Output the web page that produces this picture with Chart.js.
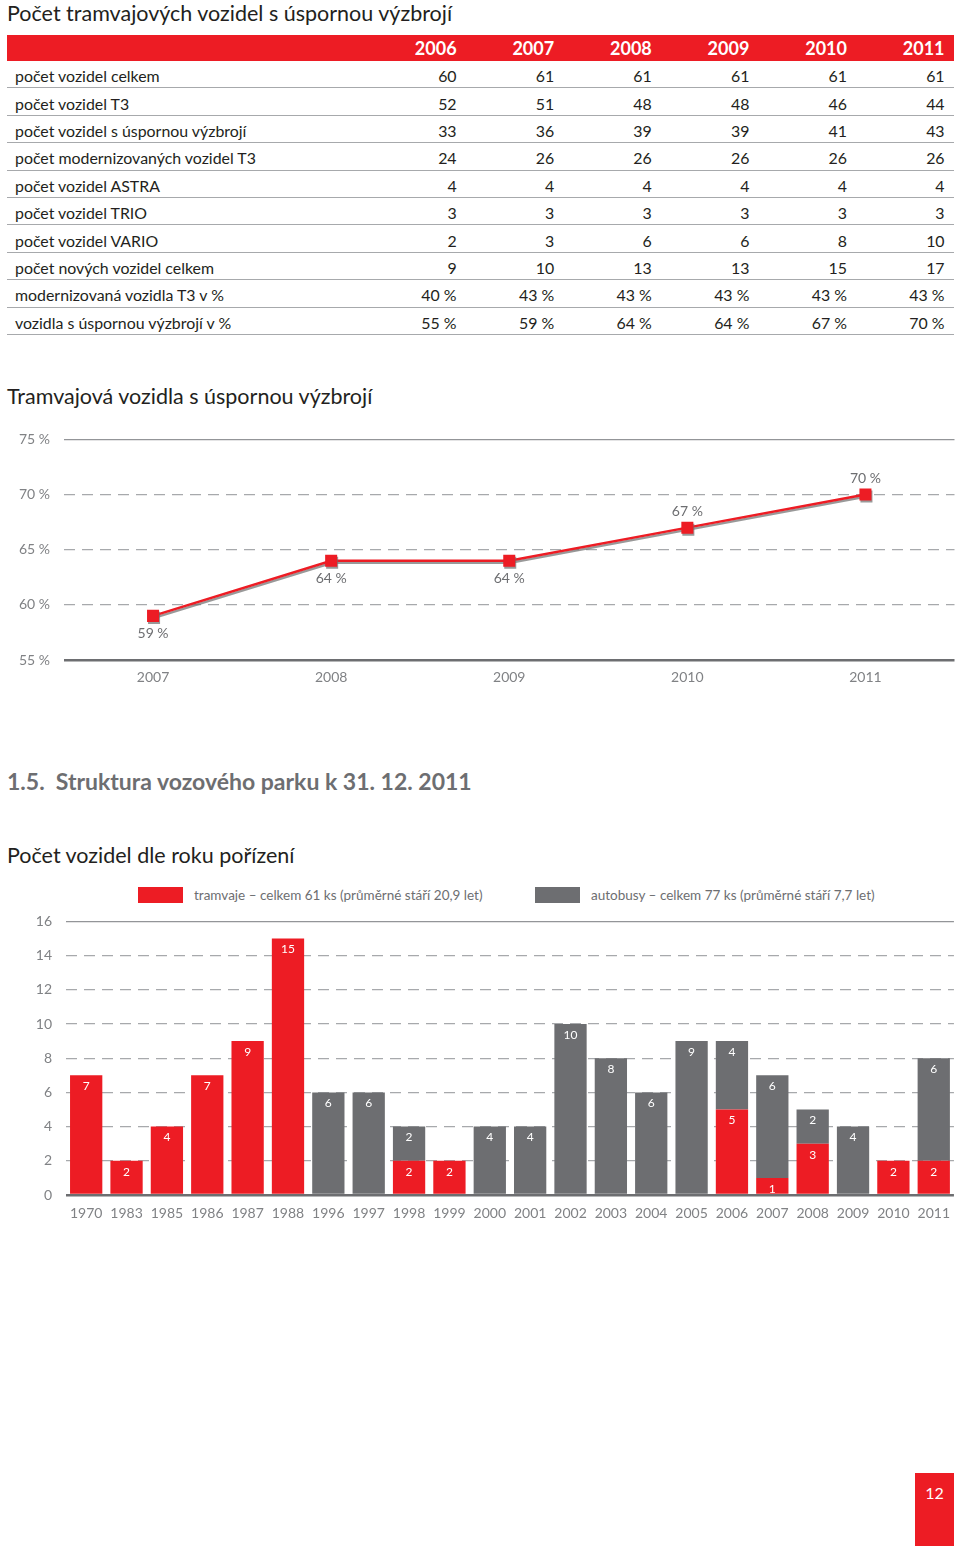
<!DOCTYPE html>
<html>
<head>
<meta charset="utf-8">
<script src="https://cdn.jsdelivr.net/npm/chart.js@4.4.1/dist/chart.umd.min.js"></script>
<style>
  body { margin: 0; width: 960px; height: 1546px; position: relative; background: #fff; font-family: Lato, sans-serif; color: #231f20; overflow: hidden; }
  .title { position: absolute; left: 7px; font-size: 21.5px; line-height: 26px; white-space: nowrap; }
  .heading { position: absolute; left: 7px; top: 766px; font-size: 23px; line-height: 30px; font-weight: bold; color: #6d6e71; white-space: nowrap; }
  #table { position: absolute; left: 7px; top: 35px; width: 947px; }
  .row { display: flex; height: 27.4px; box-sizing: border-box; border-bottom: 1.5px solid #a7a9ac; align-items: center; font-size: 15.9px; padding-top: 3px; }
  .row.head { height: 26px; background: #ed1c24; color: #fff; font-weight: bold; font-size: 18px; border-bottom: none; padding-top: 0; }
  .row .lab { width: 361px; padding-left: 8px; box-sizing: border-box; white-space: nowrap; }
  .row .num { width: 97.6px; padding-right: 9px; box-sizing: border-box; text-align: right; white-space: nowrap; }
  .box { position: absolute; }
  .legend { position: absolute; top: 884px; font-size: 13.5px; color: #6d6e71; line-height: 22px; white-space: nowrap; }
  .swatch { position: absolute; top: 887px; width: 45px; height: 16px; }
  #page { position: absolute; left: 915px; top: 1473px; width: 39px; height: 73px; background: #ed1c24; color: #fff; font-size: 16px; text-align: center; line-height: 40px; }
</style>
</head>
<body>
<div class="title" style="top:0">Počet tramvajových vozidel s úspornou výzbrojí</div>
<div id="table"></div>

<div class="title" style="top:383px">Tramvajová vozidla s úspornou výzbrojí</div>
<div class="box" style="left:0;top:417px;width:963px;height:283px"><canvas id="lineChart"></canvas></div>

<div class="heading">1.5.&nbsp; Struktura vozového parku k 31. 12. 2011</div>

<div class="title" style="top:842px">Počet vozidel dle roku pořízení</div>
<div class="swatch" style="left:138px;background:#ed1c24"></div>
<div class="legend" style="left:194px">tramvaje – celkem 61 ks (průměrné stáří 20,9 let)</div>
<div class="swatch" style="left:535px;background:#6d6e71"></div>
<div class="legend" style="left:591px">autobusy – celkem 77 ks (průměrné stáří 7,7 let)</div>
<div class="box" style="left:0;top:899px;width:960px;height:331px"><canvas id="barChart"></canvas></div>

<div id="page">12</div>

<script>
// tabulka
const tableYears = ['2006', '2007', '2008', '2009', '2010', '2011'];
const rowLabels = [
  'počet vozidel celkem',
  'počet vozidel T3',
  'počet vozidel s úspornou výzbrojí',
  'počet modernizovaných vozidel T3',
  'počet vozidel ASTRA',
  'počet vozidel TRIO',
  'počet vozidel VARIO',
  'počet nových vozidel celkem',
  'modernizovaná vozidla T3 v %',
  'vozidla s úspornou výzbrojí v %'
];
const rowValues = [
  [60, 61, 61, 61, 61, 61],
  [52, 51, 48, 48, 46, 44],
  [33, 36, 39, 39, 41, 43],
  [24, 26, 26, 26, 26, 26],
  [4, 4, 4, 4, 4, 4],
  [3, 3, 3, 3, 3, 3],
  [2, 3, 6, 6, 8, 10],
  [9, 10, 13, 13, 15, 17],
  [40, 43, 43, 43, 43, 43],
  [55, 59, 64, 64, 67, 70]
];
const rowUnits = ['', '', '', '', '', '', '', '', ' %', ' %'];

// graf úsporné výzbroje
const lineYears = ['2007', '2008', '2009', '2010', '2011'];
const savingShare = [59, 64, 64, 67, 70];
const labelAbove = [false, false, false, true, true];

// graf podle roku pořízení
const purchaseYears = ['1970', '1983', '1985', '1986', '1987', '1988', '1996', '1997', '1998', '1999', '2000',
  '2001', '2002', '2003', '2004', '2005', '2006', '2007', '2008', '2009', '2010', '2011'];
const tramCounts = [7, 2, 4, 7, 9, 15, 0, 0, 2, 2, 0, 0, 0, 0, 0, 0, 5, 1, 3, 0, 2, 2];
const busCounts  = [0, 0, 0, 0, 0, 0, 6, 6, 2, 0, 4, 4, 10, 8, 6, 9, 4, 6, 2, 4, 0, 6];

const RED = '#ed1c24';
const GRAY = '#6d6e71';

// sestavení tabulky
const table = document.getElementById('table');
let html = '<div class="row head"><div class="lab"></div>' +
  tableYears.map(y => `<div class="num">${y}</div>`).join('') + '</div>';
rowLabels.forEach((label, i) => {
  html += `<div class="row"><div class="lab">${label}</div>` +
    rowValues[i].map(v => `<div class="num">${v}${rowUnits[i]}</div>`).join('') + '</div>';
});
table.innerHTML = html;

Chart.defaults.font.family = 'Lato, sans-serif';
Chart.defaults.color = '#808285';

// mřížka: krajní čáry plné, vnitřní čárkované
function gridColor(min, max) {
  return ctx => {
    if (ctx.tick.value === min) return '#6d6e71';
    if (ctx.tick.value === max) return '#939598';
    return '#a7a9ac';
  };
}
function gridWidth(min) {
  return ctx => ctx.tick.value === min ? 2.5 : 1.2;
}
function gridDash(min, max) {
  return ctx => (ctx.tick && (ctx.tick.value === min || ctx.tick.value === max)) ? [] : [11, 7];
}

const lineLabels = {
  id: 'lineLabels',
  afterDatasetsDraw(chart) {
    const ctx = chart.ctx;
    const meta = chart.getDatasetMeta(0);
    ctx.save();
    ctx.font = '14px Lato, sans-serif';
    ctx.fillStyle = '#6d6e71';
    ctx.textAlign = 'center';
    ctx.textBaseline = 'middle';
    meta.data.forEach((pt, i) => {
      const dy = labelAbove[i] ? -16 : 18;
      ctx.fillText(savingShare[i] + ' %', pt.x, pt.y + dy);
    });
    ctx.restore();
  }
};

const lineShadow = {
  id: 'lineShadow',
  beforeDatasetDraw(chart) {
    const ctx = chart.ctx;
    ctx.save();
    ctx.shadowColor = 'rgba(110,110,110,0.7)';
    ctx.shadowOffsetX = 1;
    ctx.shadowOffsetY = 2;
    ctx.shadowBlur = 0;
  },
  afterDatasetDraw(chart) {
    chart.ctx.restore();
  }
};

new Chart(document.getElementById('lineChart'), {
  type: 'line',
  data: {
    labels: lineYears,
    datasets: [{
      data: savingShare,
      borderColor: RED,
      backgroundColor: RED,
      borderWidth: 2.5,
      pointStyle: 'rect',
      pointRadius: 8.5,
      pointBorderWidth: 0,
      tension: 0
    }]
  },
  options: {
    responsive: true,
    maintainAspectRatio: false,
    animation: false,
    layout: { padding: { top: 9, left: 0, right: 0, bottom: 0 } },
    plugins: { legend: { display: false }, tooltip: { enabled: false } },
    scales: {
      x: {
        offset: true,
        grid: { display: false, drawTicks: false },
        border: { display: false },
        ticks: { padding: 9, font: { size: 14 } },
        afterFit: s => { s.height = 40; }
      },
      y: {
        min: 55,
        max: 75,
        ticks: { stepSize: 5, padding: 14, font: { size: 14 }, callback: v => v + ' %' },
        grid: { drawTicks: false, color: gridColor(55, 75), lineWidth: gridWidth(55) },
        border: { display: false, dash: gridDash(55, 75) },
        afterFit: s => { s.width = 64; }
      }
    }
  },
  plugins: [lineShadow, lineLabels]
});

const barLabels = {
  id: 'barLabels',
  afterDatasetsDraw(chart) {
    const ctx = chart.ctx;
    ctx.save();
    ctx.font = '12px Lato, sans-serif';
    ctx.fillStyle = '#fff';
    ctx.textAlign = 'center';
    ctx.textBaseline = 'middle';
    chart.data.datasets.forEach((ds, i) => {
      chart.getDatasetMeta(i).data.forEach((bar, j) => {
        const v = ds.data[j];
        if (!v) return;
        ctx.fillText(v, bar.x, bar.y + 11);
      });
    });
    ctx.restore();
  }
};

new Chart(document.getElementById('barChart'), {
  type: 'bar',
  data: {
    labels: purchaseYears,
    datasets: [
      { label: 'tramvaje', data: tramCounts, backgroundColor: RED, barPercentage: 0.8, categoryPercentage: 1 },
      { label: 'autobusy', data: busCounts, backgroundColor: GRAY, barPercentage: 0.8, categoryPercentage: 1 }
    ]
  },
  options: {
    responsive: true,
    maintainAspectRatio: false,
    animation: false,
    layout: { padding: { top: 16, left: 0, right: 0, bottom: 0 } },
    plugins: { legend: { display: false }, tooltip: { enabled: false } },
    scales: {
      x: {
        stacked: true,
        grid: { display: false, drawTicks: false },
        border: { display: false },
        ticks: { padding: 10, font: { size: 14 }, autoSkip: false, maxRotation: 0 },
        afterFit: s => { s.height = 35; }
      },
      y: {
        stacked: true,
        min: 0,
        max: 16,
        ticks: { stepSize: 2, padding: 14, font: { size: 14 } },
        grid: { drawTicks: false, color: gridColor(0, 16), lineWidth: gridWidth(0) },
        border: { display: false, dash: gridDash(0, 16) },
        afterFit: s => { s.width = 66; }
      }
    }
  },
  plugins: [barLabels]
});
</script>
</body>
</html>
